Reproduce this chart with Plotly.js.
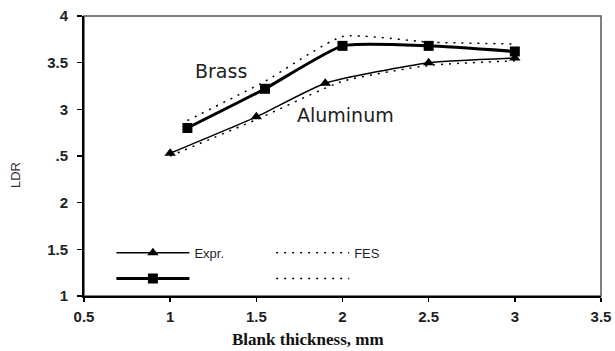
<!DOCTYPE html>
<html>
<head>
<meta charset="utf-8">
<script src="https://cdn.plot.ly/plotly-3.0.1.min.js"></script>
<style>html,body{margin:0;padding:0;background:#fff;}#chart{width:615px;height:351px;}</style>
</head>
<body>
<div id="chart"></div>
<script>
// Data
var alX = [1, 1.5, 1.9, 2.5, 3];
var alExpr = [2.53, 2.92, 3.28, 3.5, 3.55];
var alFesX = [1, 1.5, 2, 2.5, 3];
var alFes = [2.5, 2.89, 3.3, 3.47, 3.52];
var brX = [1.1, 1.55, 2, 2.5, 3];
var brExpr = [2.8, 3.22, 3.68, 3.68, 3.62];
var brFes = [2.88, 3.3, 3.78, 3.72, 3.7];
var xTicks = [0.5, 1, 1.5, 2, 2.5, 3, 3.5];
var xTickText = ['0.5', '1', '1.5', '2', '2.5', '3', '3.5'];
var yTicks = [1, 1.5, 2, 2.5, 3, 3.5, 4];
var yTickText = ['1', '1.5', '2', '.5', '3', '3.5', '4'];
var seriesNames = ['Expr.', 'FES', ' ', ' '];

var dotDash = '2px,6px';
var traces = [
  {x: alX, y: alExpr, name: seriesNames[0], mode: 'lines+markers', legend: 'legend',
   line: {color: '#000', width: 1.5, shape: 'spline', smoothing: 0.5},
   marker: {symbol: 'triangle-up', size: 10, color: '#000'}},
  {x: alFesX, y: alFes, name: seriesNames[1], mode: 'lines', legend: 'legend2',
   line: {color: '#000', width: 1.5, dash: dotDash, shape: 'spline', smoothing: 0.5}},
  {x: brX, y: brExpr, name: seriesNames[2], mode: 'lines+markers', legend: 'legend3',
   line: {color: '#000', width: 3, shape: 'spline', smoothing: 0.5},
   marker: {symbol: 'square', size: 10, color: '#000'}},
  {x: brX, y: brFes, name: seriesNames[3], mode: 'lines', legend: 'legend4',
   line: {color: '#000', width: 1.5, dash: dotDash, shape: 'spline', smoothing: 0.5}}
];

function leg(x, y) {
  return {x: x, y: y, xanchor: 'left', yanchor: 'middle', bgcolor: 'rgba(0,0,0,0)',
          itemwidth: 73, font: {family: 'Arial, Liberation Sans, sans-serif', size: 13, color: '#1f1f33'}};
}
function bold(t) { return '<b>' + t + '</b>'; }

var tickFont = {family: 'Arial, Liberation Sans, sans-serif', size: 15, color: '#222'};

var layout = {
  width: 615, height: 351,
  margin: {l: 84, r: 14, t: 16, b: 55},
  paper_bgcolor: '#fff', plot_bgcolor: '#fff',
  showlegend: true,
  legend: leg(0.053, 0.154),
  legend2: leg(0.362, 0.154),
  legend3: leg(0.053, 0.062),
  legend4: leg(0.362, 0.062),
  xaxis: {
    range: [0.5, 3.5], tickvals: xTicks, ticktext: xTickText.map(bold),
    showgrid: false, zeroline: false,
    showline: true, linecolor: '#000', linewidth: 2,
    ticks: 'outside', ticklen: 4, tickwidth: 1.5, tickcolor: '#000',
    ticklabelstandoff: 2,
    tickfont: tickFont
  },
  yaxis: {
    range: [1, 4], tickvals: yTicks, ticktext: yTickText.map(bold),
    showgrid: false, zeroline: false,
    showline: true, linecolor: '#000', linewidth: 2,
    ticks: 'outside', ticklen: 5, tickwidth: 1.5, tickcolor: '#000',
    ticklabelstandoff: 6,
    tickfont: tickFont
  },
  shapes: [
    {type: 'rect', xref: 'paper', yref: 'paper', x0: 0, x1: 1, y0: 0, y1: 1,
     line: {color: '#555', width: 1.5}, layer: 'below'}
  ],
  annotations: [
    {text: 'Brass', x: 1.297, y: 3.41, xref: 'x', yref: 'y', showarrow: false,
     font: {family: 'DejaVu Sans, sans-serif', size: 19, color: '#222'}},
    {text: 'Aluminum', x: 2.017, y: 2.94, xref: 'x', yref: 'y', showarrow: false,
     font: {family: 'DejaVu Sans, sans-serif', size: 19, color: '#222'}},
    {text: 'LDR', x: -69 / 517, y: 0.432, xref: 'paper', yref: 'paper', textangle: -90,
     xanchor: 'center', yanchor: 'middle', showarrow: false,
     font: {family: 'Arial, Liberation Sans, sans-serif', size: 13, color: '#333'}},
    {text: '<b>Blank thickness, mm</b>', x: 0.433, y: -0.115, xref: 'paper', yref: 'paper',
     xanchor: 'center', yanchor: 'top', showarrow: false,
     font: {family: 'Liberation Serif, Times New Roman, serif', size: 17, color: '#111'}}
  ]
};

Plotly.newPlot('chart', traces, layout, {staticPlot: true, displayModeBar: false});
</script>
</body>
</html>
